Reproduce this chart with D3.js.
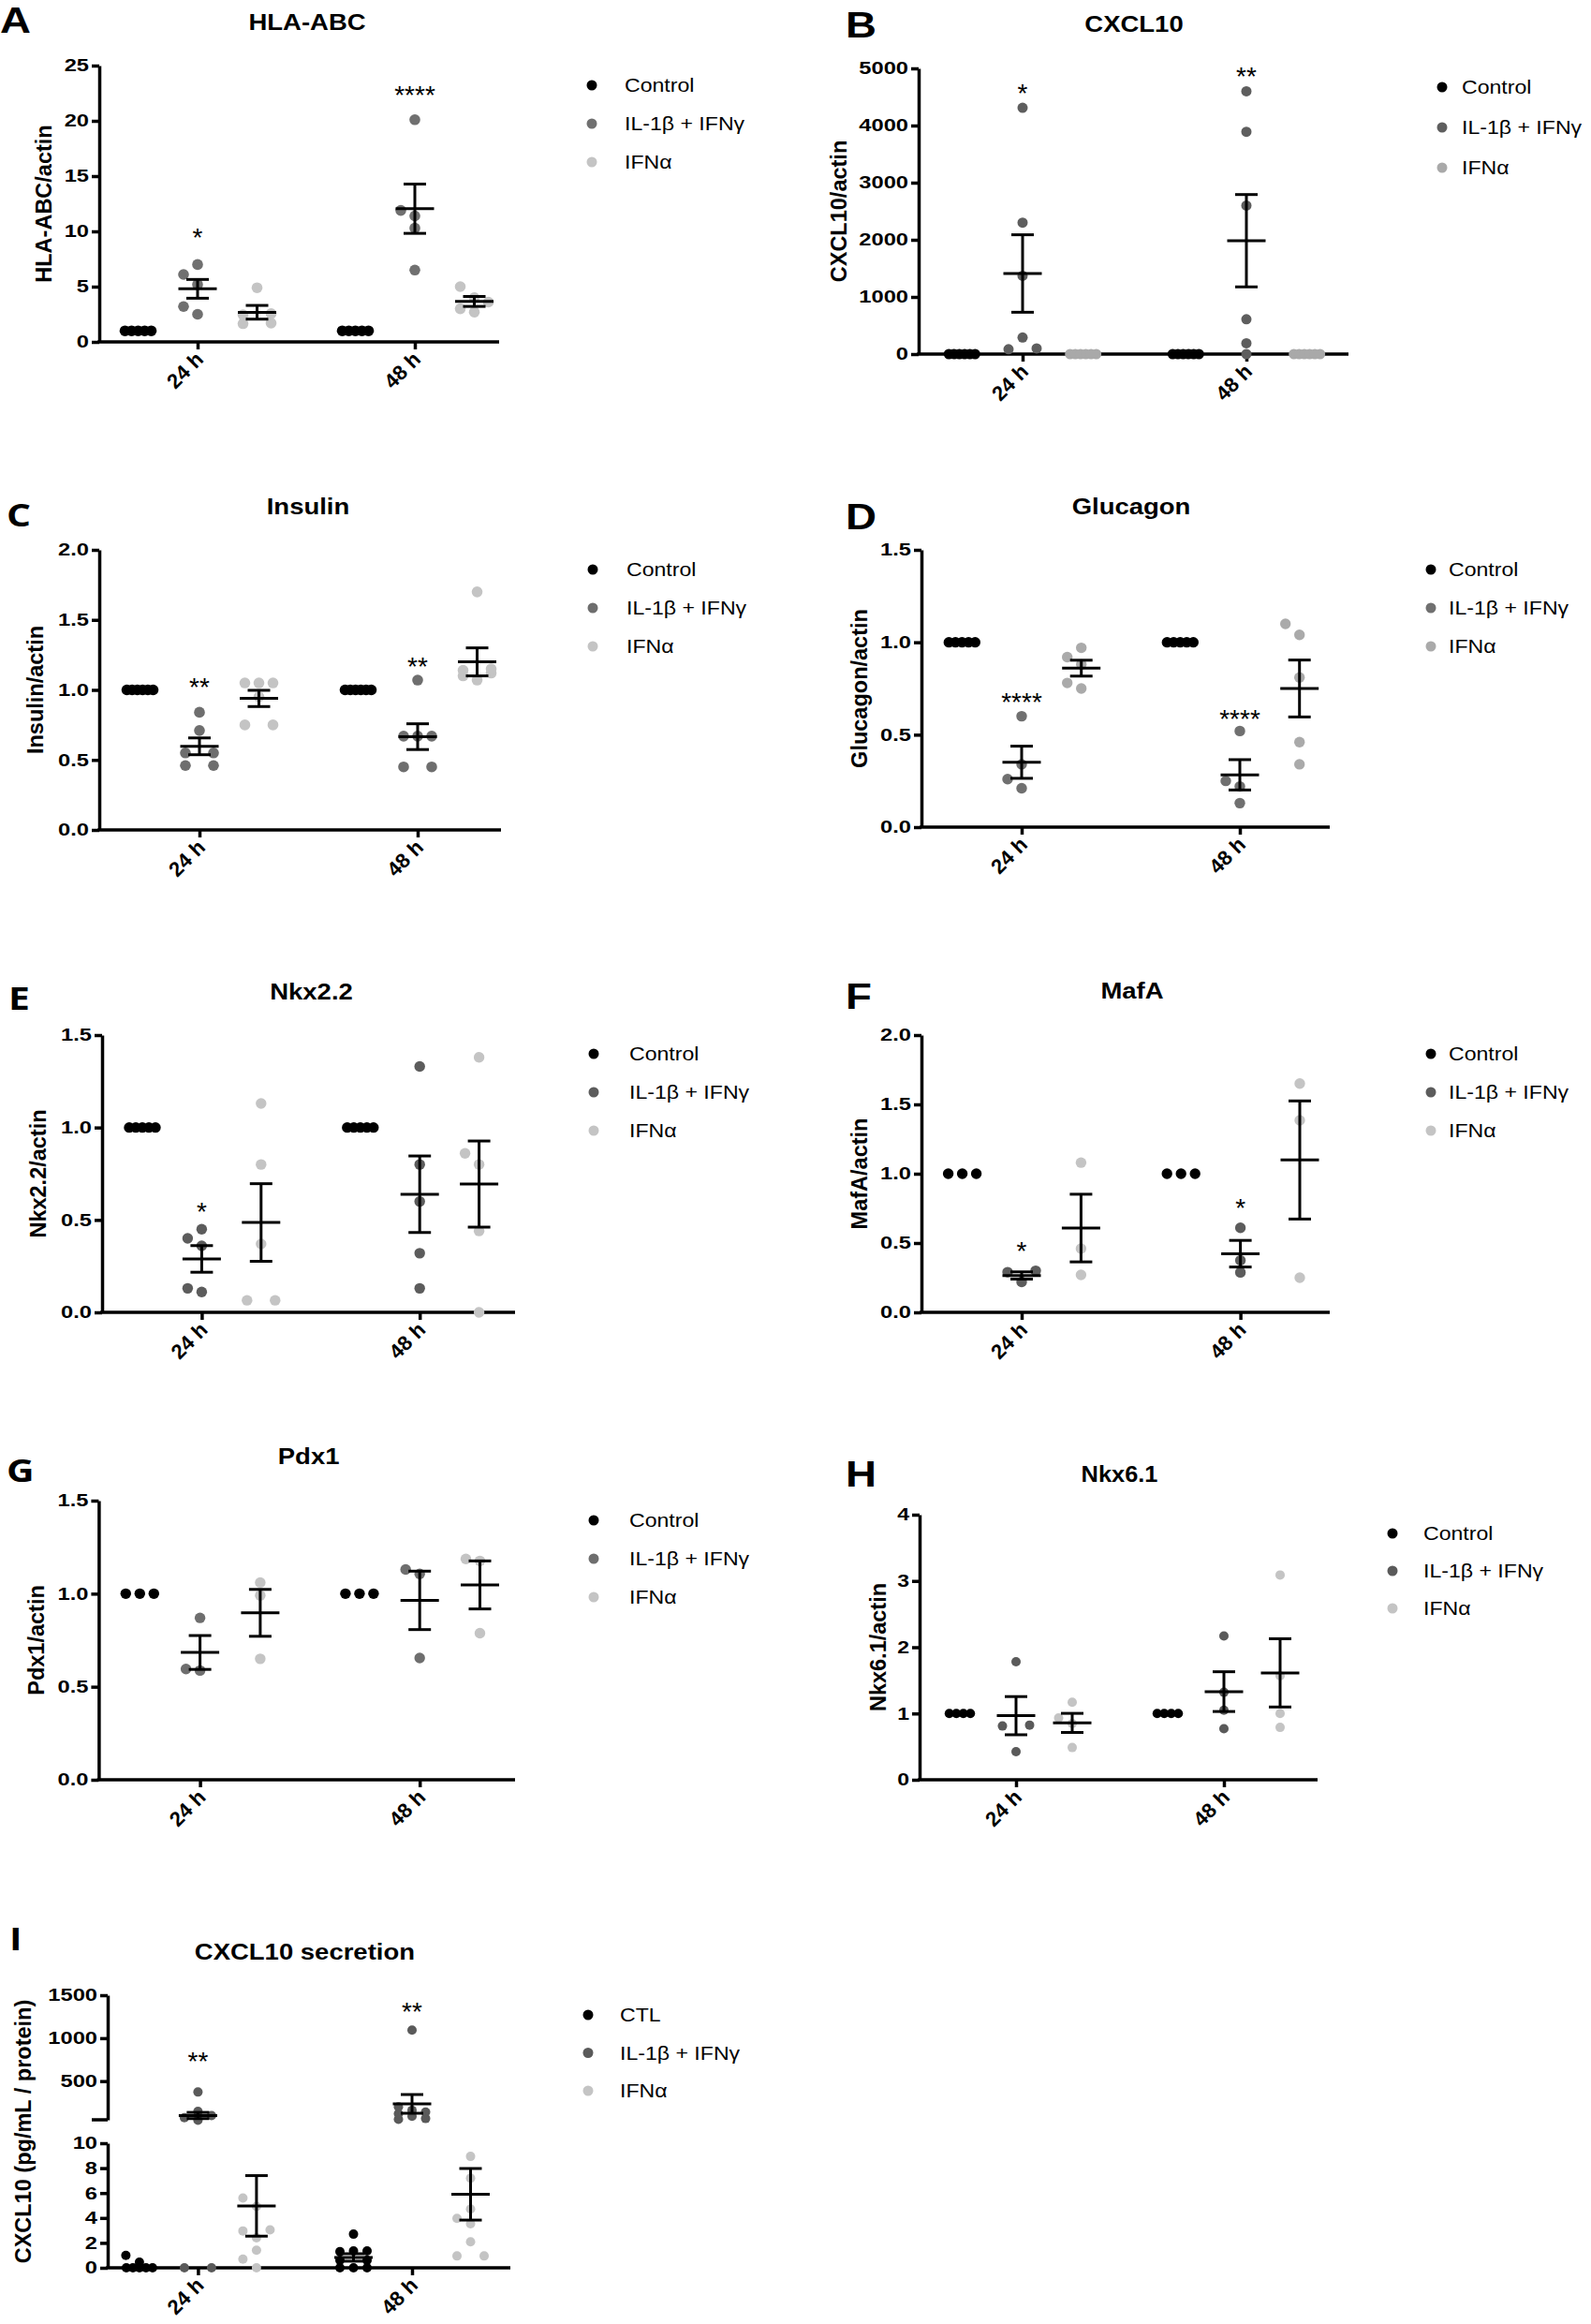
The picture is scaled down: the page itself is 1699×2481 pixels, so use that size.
<!DOCTYPE html>
<html><head><meta charset="utf-8">
<script src="https://cdn.jsdelivr.net/npm/d3@7"></script>
<style>body{margin:0;background:#fff}svg{display:block}</style>
</head><body>
<script>
// ---------------- DATA ----------------
const timepoints = ["24 h", "48 h"];
const treatments = ["Control", "IL-1β + IFNγ", "IFNα"];
const treatmentsI = ["CTL", "IL-1β + IFNγ", "IFNα"];
// every array below is ordered: 24 h Control, 24 h IL-1β+IFNγ, 24 h IFNα, 48 h Control, 48 h IL-1β+IFNγ, 48 h IFNα

// A  HLA-ABC
const hlaTicks = [0, 5, 10, 15, 20, 25];
const hlaPoints = [
  [1, 1, 1, 1, 1],
  [7.0, 6.1, 5.2, 3.2, 2.5],
  [4.9, 2.55, 2.45, 1.7, 1.65],
  [1, 1, 1, 1, 1],
  [20.1, 11.9, 11.4, 10.3, 6.5],
  [5.0, 4.0, 3.6, 3.0, 2.7]
];
const hlaMean = [null, 4.8, 2.68, null, 12.05, 3.66];
const hlaSem = [null, 0.85, 0.62, null, 2.23, 0.45];
const hlaStars = ["", "*", "", "", "****", ""];
const hlaStarAt = [null, 10.0, null, null, 22.9, null];

// B  CXCL10
const cxclTicks = [0, 1000, 2000, 3000, 4000, 5000];
const cxclPoints = [
  [0, 0, 0, 0, 0, 0],
  [4310, 2300, 1370, 290, 100, 85],
  [0, 0, 0, 0, 0, 0],
  [0, 0, 0, 0, 0, 0],
  [4600, 3890, 2600, 610, 190, 0],
  [0, 0, 0, 0, 0, 0]
];
const cxclMean = [null, 1410, null, null, 1984, null];
const cxclSem = [null, 678, null, null, 808, null];
const cxclStars = ["", "*", "", "", "**", ""];
const cxclStarAt = [null, 4672, null, null, 4967, null];

// C  Insulin
const insTicks = [0, 0.5, 1.0, 1.5, 2.0];
const insPoints = [
  [1, 1, 1, 1, 1, 1],
  [0.84, 0.71, 0.55, 0.55, 0.46, 0.46],
  [1.05, 1.05, 1.05, 0.95, 0.75, 0.75],
  [1, 1, 1, 1, 1, 1],
  [1.07, 0.67, 0.67, 0.67, 0.45, 0.45],
  [1.70, 1.15, 1.14, 1.12, 1.10, 1.07]
];
const insMean = [null, 0.597, 0.939, null, 0.666, 1.20];
const insSem = [null, 0.06, 0.058, null, 0.092, 0.10];
const insStars = ["", "**", "", "", "**", ""];
const insStarAt = [null, 1.064, null, null, 1.211, null];

// D  Glucagon
const gcgTicks = [0, 0.5, 1.0, 1.5];
const gcgPoints = [
  [1, 1, 1, 1, 1],
  [0.60, 0.34, 0.26, 0.21],
  [0.97, 0.92, 0.88, 0.78, 0.75],
  [1, 1, 1, 1, 1],
  [0.52, 0.25, 0.22, 0.13],
  [1.10, 1.04, 0.81, 0.46, 0.34]
];
const gcgMean = [null, 0.351, 0.86, null, 0.283, 0.75];
const gcgSem = [null, 0.087, 0.043, null, 0.082, 0.154];
const gcgStars = ["", "****", "", "", "****", ""];
const gcgStarAt = [null, 0.71, null, null, 0.618, null];

// E  Nkx2.2
const nkx22Ticks = [0, 0.5, 1.0, 1.5];
const nkx22Points = [
  [1, 1, 1, 1, 1],
  [0.45, 0.40, 0.36, 0.13, 0.11],
  [1.13, 0.80, 0.37, 0.065, 0.065],
  [1, 1, 1, 1, 1],
  [1.33, 0.80, 0.60, 0.32, 0.13],
  [1.38, 0.86, 0.80, 0.44, 0.0]
];
const nkx22Mean = [null, 0.289, 0.486, null, 0.639, 0.694];
const nkx22Sem = [null, 0.072, 0.21, null, 0.207, 0.233];
const nkx22Stars = ["", "*", "", "", "", ""];
const nkx22StarAt = [null, 0.578, null, null, null, null];

// F  MafA
const mafaTicks = [0, 0.5, 1.0, 1.5, 2.0];
const mafaPoints = [
  [1, 1, 1],
  [0.30, 0.29, 0.22],
  [1.08, 0.46, 0.27],
  [1, 1, 1],
  [0.61, 0.375, 0.288],
  [1.65, 1.385, 0.25]
];
const mafaMean = [null, 0.266, 0.608, null, 0.423, 1.099];
const mafaSem = [null, 0.026, 0.244, null, 0.096, 0.426];
const mafaStars = ["", "*", "", "", "*", ""];
const mafaStarAt = [null, 0.486, null, null, 0.797, null];

// G  Pdx1
const pdxTicks = [0, 0.5, 1.0, 1.5];
const pdxPoints = [
  [1, 1, 1],
  [0.87, 0.595, 0.587],
  [1.06, 0.99, 0.65],
  [1, 1, 1],
  [1.13, 1.106, 0.654],
  [1.187, 1.176, 0.788]
];
const pdxMean = [null, 0.684, 0.897, null, 0.964, 1.047];
const pdxSem = [null, 0.091, 0.126, null, 0.157, 0.129];
const pdxStars = ["", "", "", "", "", ""];
const pdxStarAt = [null, null, null, null, null, null];

// H  Nkx6.1
const nkx61Ticks = [0, 1, 2, 3, 4];
const nkx61Points = [
  [1, 1, 1, 1],
  [1.78, 0.825, 0.811, 0.425],
  [1.17, 0.934, 0.849, 0.486],
  [1, 1, 1, 1],
  [2.17, 1.32, 1.05, 0.77],
  [3.09, 1.57, 1.0, 0.79]
];
const nkx61Mean = [null, 0.967, 0.858, null, 1.33, 1.613];
const nkx61Sem = [null, 0.288, 0.144, null, 0.30, 0.515];
const nkx61Stars = ["", "", "", "", "", ""];
const nkx61StarAt = [null, null, null, null, null, null];

// I  CXCL10 secretion (broken axis)
const secTicksLow = [0, 2, 4, 6, 8, 10];
const secTicksHigh = [500, 1000, 1500];
const secDomainLow = [0, 10];
const secDomainHigh = [50, 1500];
const secPoints = [
  [1.0, 0.45, 0, 0, 0, 0, 0],
  [373, 147, 100, 75, 45, 0, 0],
  [5.6, 4.93, 3.04, 2.96, 2.41, 1.41, 0.7, 0],
  [2.7, 1.35, 1.3, 1.35, 0.6, 0.6, 0, 0, 0],
  [1093, 200, 160, 140, 120, 90, 65, 55],
  [8.94, 7.19, 4.72, 3.97, 3.54, 2.09, 0.95, 0.95]
];
const secMean = [null, 100, 4.97, 0.83, 235, 5.9];
const secSem = [null, 36, 2.43, 0.3, 109, 2.07];
const secStars = ["", "**", "", "", "**", ""];
const secStarAt = [null, 802, null, null, 1380, null];

// ---------------- LAYOUT / STYLE ----------------
const FONT = "'Liberation Sans', Arial, Helvetica, sans-serif";
const layouts = {
  A: {ax:106, axEnd:533, yTop:70, yBot:365, t:[211,443], g:63.5, titleX:328, titleY:32, letterX:0, letterY:35, ylabX:47, legX:632, legTextX:667, legY:91, legDy:41},
  B: {ax:981, axEnd:1440, yTop:73, yBot:378, t:[1092,1331], g:64.7, titleX:1211, titleY:34, letterX:903, letterY:40, ylabX:896, legX:1540, legTextX:1561, legY:93, legDy:43},
  C: {ax:106, axEnd:535, yTop:587, yBot:886, t:[213,446], g:63.5, titleX:329, titleY:549, letterX:7, letterY:562, ylabX:38, legX:633, legTextX:669, legY:608, legDy:41},
  D: {ax:984, axEnd:1420, yTop:587, yBot:883, t:[1091,1324], g:63.7, titleX:1208, titleY:549, letterX:903, letterY:565, ylabX:918, legX:1528, legTextX:1547, legY:608, legDy:41},
  E: {ax:109, axEnd:550, yTop:1105, yBot:1401, t:[215.4,448.2], g:63.4, titleX:332.5, titleY:1067, letterX:9, letterY:1078, ylabX:41, legX:634, legTextX:672, legY:1125, legDy:41},
  F: {ax:984, axEnd:1420, yTop:1105, yBot:1401, t:[1091,1324.6], g:63.4, titleX:1209, titleY:1066, letterX:903, letterY:1077, ylabX:918, legX:1528, legTextX:1547, legY:1125, legDy:41},
  G: {ax:105.4, axEnd:550, yTop:1602, yBot:1900, t:[213.6,448.2], g:64.3, titleX:329.6, titleY:1563, letterX:7, letterY:1582, ylabX:39, legX:634, legTextX:672, legY:1623, legDy:41},
  H: {ax:982, axEnd:1407, yTop:1617, yBot:1900, t:[1085,1307], g:60, titleX:1195.5, titleY:1582, letterX:903, letterY:1587, ylabX:938, legX:1487, legTextX:1520, legY:1637, legDy:40},
  I: {ax:115, axEnd:545, yTop:2288, yBot:2421, upTop:2130, upBot:2263, t:[211.4,440], g:62.5, titleX:325.4, titleY:2092, letterX:10, letterY:2082, ylabX:25, legX:628, legTextX:662, legY:2151, legDy:40.5}
};

const panels = [
  {id:"A", title:"HLA-ABC", ylabel:"HLA-ABC/actin", names:treatments, points:hlaPoints, mean:hlaMean, sem:hlaSem, stars:hlaStars, starAt:hlaStarAt, ticks:hlaTicks, fmt:"d", colors:["#000","#707070","#c4c4c4"], r:5.8, c:15},
  {id:"B", title:"CXCL10", ylabel:"CXCL10/actin", names:treatments, points:cxclPoints, mean:cxclMean, sem:cxclSem, stars:cxclStars, starAt:cxclStarAt, ticks:cxclTicks, fmt:"d", colors:["#000","#5e5e5e","#a9a9a9"], r:5.5, c:15},
  {id:"C", title:"Insulin", ylabel:"Insulin/actin", names:treatments, points:insPoints, mean:insMean, sem:insSem, stars:insStars, starAt:insStarAt, ticks:insTicks, fmt:".1f", colors:["#000","#6e6e6e","#c4c4c4"], r:5.8, c:15, letterFont:"'Open Sans', sans-serif"},
  {id:"D", title:"Glucagon", ylabel:"Glucagon/actin", names:treatments, points:gcgPoints, mean:gcgMean, sem:gcgSem, stars:gcgStars, starAt:gcgStarAt, ticks:gcgTicks, fmt:".1f", colors:["#000","#707070","#aaaaaa"], r:5.7, c:15},
  {id:"E", title:"Nkx2.2", ylabel:"Nkx2.2/actin", names:treatments, points:nkx22Points, mean:nkx22Mean, sem:nkx22Sem, stars:nkx22Stars, starAt:nkx22StarAt, ticks:nkx22Ticks, fmt:".1f", colors:["#000","#5c5c5c","#c4c4c4"], r:5.7, c:15, letterFont:"'Open Sans', sans-serif"},
  {id:"F", title:"MafA", ylabel:"MafA/actin", names:treatments, points:mafaPoints, mean:mafaMean, sem:mafaSem, stars:mafaStars, starAt:mafaStarAt, ticks:mafaTicks, fmt:".1f", colors:["#000","#5c5c5c","#c4c4c4"], r:5.7, c:15},
  {id:"G", title:"Pdx1", ylabel:"Pdx1/actin", names:treatments, points:pdxPoints, mean:pdxMean, sem:pdxSem, stars:pdxStars, starAt:pdxStarAt, ticks:pdxTicks, fmt:".1f", colors:["#000","#6e6e6e","#c4c4c4"], r:5.7, c:15, letterFont:"'Open Sans', sans-serif"},
  {id:"H", title:"Nkx6.1", ylabel:"Nkx6.1/actin", names:treatments, points:nkx61Points, mean:nkx61Mean, sem:nkx61Sem, stars:nkx61Stars, starAt:nkx61StarAt, ticks:nkx61Ticks, fmt:"d", colors:["#000","#5a5a5a","#c4c4c4"], r:5, c:14.5, titleScale:1.08, tickFont:18},
  {id:"I", title:"CXCL10 secretion", ylabel:"CXCL10 (pg/mL / protein)", names:treatmentsI, points:secPoints, mean:secMean, sem:secSem, stars:secStars, starAt:secStarAt, split:true, colors:["#000","#5a5a5a","#c4c4c4"], r:5, c:14.5, letterFont:"'Open Sans', sans-serif"}
];

// ---------------- DRAWING ----------------
const svg = d3.select("body").append("svg").attr("width", 1699).attr("height", 2481)
  .style("font-family", FONT);

function swarm(vals, yf, c, D) {
  const pts = vals.map(v => ({v, y: yf(v)})).sort((a, b) => a.v - b.v);
  const runs = [];
  pts.forEach(p => {
    const last = runs[runs.length - 1];
    if (last && Math.abs(last[0].y - p.y) < 1.5) last.push(p); else runs.push([p]);
  });
  const placed = [];
  runs.forEach(run => {
    const k = run.length;
    if (k >= 4) { const sp = Math.min(7.5, 28 / (k - 1)); run.forEach((p, i) => p.dx = (i - (k - 1) / 2) * sp); return; }
    if (k === 2) { run[0].dx = -c; run[1].dx = c; placed.push(...run); return; }
    if (k === 3) { run[0].dx = -c; run[1].dx = 0; run[2].dx = c; placed.push(...run); return; }
    const p = run[0];
    const cands = [0, -c, c];
    const minD = dx => placed.length ? d3.min(placed, q => Math.hypot(q.dx - dx, q.y - p.y)) : Infinity;
    let dx = cands.find(d => minD(d) >= D);
    if (dx === undefined) dx = d3.greatest(cands, d => minD(d));
    p.dx = dx;
    placed.push(p);
  });
  return pts;
}

const TICK_SX = 1.28;
function styleAxis(sel, fs, sx) {
  sel.attr("font-family", null).attr("font-size", null);
  sel.selectAll("path.domain").attr("stroke", "#000").attr("stroke-width", 3.5);
  sel.selectAll(".tick line").attr("stroke", "#000").attr("stroke-width", 3.5);
  sel.selectAll(".tick text").attr("fill", "#000").attr("font-weight", "bold")
    .attr("font-size", fs).style("font-family", FONT);
  if (sx) sel.selectAll(".tick text").attr("transform", `scale(${sx},1)`).attr("x", -11 / sx);
}

function drawPanel(p) {
  const L = layouts[p.id];
  const g = svg.append("g");
  const tickFs = p.tickFont || 18.5;
  let yf;
  if (p.split) {
    const low = d3.scaleLinear().domain(secDomainLow).range([L.yBot, L.yTop]);
    const high = d3.scaleLinear().domain(secDomainHigh).range([L.upBot, L.upTop]);
    yf = v => (v <= secDomainLow[1] ? low(v) : high(v));
    g.append("g").attr("transform", `translate(${L.ax},0)`)
      .call(d3.axisLeft(low).tickValues(secTicksLow).tickFormat(d3.format("d")).tickSize(8).tickPadding(3).tickSizeOuter(0))
      .call(s => styleAxis(s, tickFs, TICK_SX));
    const ua = g.append("g").attr("transform", `translate(${L.ax},0)`)
      .call(d3.axisLeft(high).tickValues(secTicksHigh).tickFormat(d3.format("d")).tickSize(8).tickPadding(3).tickSizeOuter(0))
      .call(s => styleAxis(s, tickFs, TICK_SX));
    ua.append("line").attr("x1", -17).attr("x2", 0).attr("y1", L.upBot).attr("y2", L.upBot)
      .attr("stroke", "#000").attr("stroke-width", 3.5);
  } else {
    const y = d3.scaleLinear().domain(d3.extent(p.ticks)).range([L.yBot, L.yTop]);
    yf = y;
    g.append("g").attr("transform", `translate(${L.ax},0)`)
      .call(d3.axisLeft(y).tickValues(p.ticks).tickFormat(d3.format(p.fmt)).tickSize(8).tickPadding(3).tickSizeOuter(0))
      .call(s => styleAxis(s, tickFs, TICK_SX));
  }

  // x axis
  const xt = d3.scalePoint().domain(timepoints).range(L.t);
  const xg = d3.scalePoint().domain(p.names).range([-L.g, L.g]);
  const xa = g.append("g").attr("transform", `translate(0,${L.yBot})`)
    .call(d3.axisBottom(xt).tickSize(8).tickSizeOuter(0))
    .call(s => styleAxis(s, 22));
  xa.select(".domain").remove();
  xa.insert("line", ":first-child").attr("x1", L.ax - 1.75).attr("x2", L.axEnd).attr("y1", 0).attr("y2", 0)
    .attr("stroke", "#000").attr("stroke-width", 3.5);
  xa.selectAll(".tick text").attr("x", 0).attr("y", 0).attr("dy", null)
    .attr("text-anchor", "end").attr("transform", "translate(7,20) rotate(-45)");

  // title, panel letter, y label
  g.append("text").attr("transform", `translate(${L.titleX},${L.titleY}) scale(${p.titleScale || 1.17},1)`)
    .attr("text-anchor", "middle").attr("font-weight", "bold").attr("font-size", 23.5).text(p.title);
  g.append("text").attr("transform", `translate(${L.letterX},${L.letterY}) scale(1.2,1)`)
    .attr("font-weight", "bold").attr("font-size", p.letterFont ? 34 : 38)
    .style("font-family", p.letterFont || FONT).text(p.id);
  const ymid = p.split ? (L.upTop + L.yBot) / 2 : (L.yTop + L.yBot) / 2;
  g.append("text").attr("transform", `translate(${L.ylabX},${ymid}) rotate(-90)`)
    .attr("text-anchor", "middle").attr("dy", "0.35em").attr("font-weight", "bold")
    .attr("font-size", 23.5).text(p.ylabel);

  // points
  const D = 2 * p.r + 0.5;
  const centers = p.points.map((vals, i) => xt(timepoints[Math.floor(i / 3)]) + xg(p.names[i % 3]));
  p.points.forEach((vals, i) => {
    const pts = swarm(vals, yf, p.c, D);
    g.append("g").selectAll("circle").data(pts).join("circle")
      .attr("cx", d => centers[i] + d.dx).attr("cy", d => d.y).attr("r", p.r)
      .attr("fill", p.colors[i % 3]);
  });

  // mean ± SEM
  p.mean.forEach((m, i) => {
    if (m == null) return;
    const cx = centers[i], s = p.sem[i];
    const hw = 20.5, cw = 12;
    const eg = g.append("g").attr("stroke", "#000").attr("stroke-width", 3);
    eg.append("line").attr("x1", cx).attr("x2", cx).attr("y1", yf(m - s)).attr("y2", yf(m + s));
    eg.append("line").attr("x1", cx - hw).attr("x2", cx + hw).attr("y1", yf(m)).attr("y2", yf(m));
    [m - s, m + s].forEach(v => eg.append("line").attr("x1", cx - cw).attr("x2", cx + cw)
      .attr("y1", yf(v)).attr("y2", yf(v)));
  });

  // significance stars
  p.stars.forEach((st, i) => {
    if (!st) return;
    g.append("text").attr("x", centers[i]).attr("y", yf(p.starAt[i]) + 16)
      .attr("text-anchor", "middle").attr("font-size", 28).text(st);
  });

  // legend
  const lg = g.append("g");
  p.names.forEach((n, k) => {
    const yy = L.legY + k * L.legDy;
    lg.append("circle").attr("cx", L.legX).attr("cy", yy).attr("r", 5.5).attr("fill", p.colors[k]);
    lg.append("text").attr("transform", `translate(${L.legTextX},${yy}) scale(1.1,1)`).attr("dy", "0.35em")
      .attr("font-size", 21).text(n);
  });
}

panels.forEach(drawPanel);
</script>
</body></html>
